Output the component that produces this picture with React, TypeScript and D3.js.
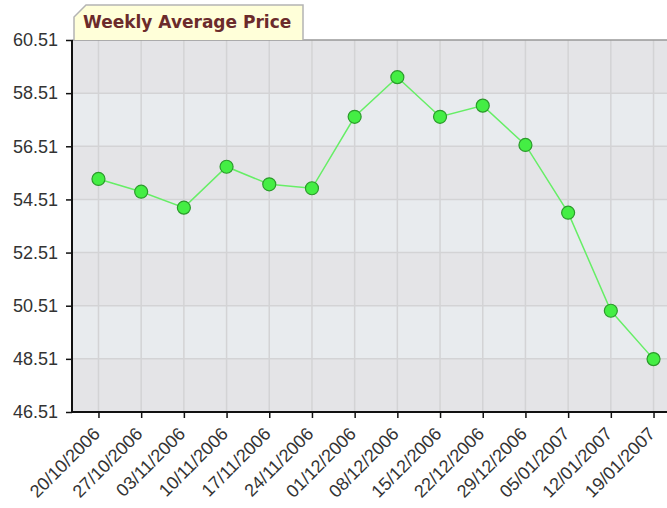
import React, { useRef, useEffect } from "react";
import * as d3 from "d3";

const weeks = [
  "20/10/2006",
  "27/10/2006",
  "03/11/2006",
  "10/11/2006",
  "17/11/2006",
  "24/11/2006",
  "01/12/2006",
  "08/12/2006",
  "15/12/2006",
  "22/12/2006",
  "29/12/2006",
  "05/01/2007",
  "12/01/2007",
  "19/01/2007",
];

const prices = [
  55.28, 54.8, 54.2, 55.74, 55.08, 54.93, 57.62, 59.11, 57.62, 58.04, 56.56,
  54.01, 50.32, 48.5,
];

const yTicks = [46.51, 48.51, 50.51, 52.51, 54.51, 56.51, 58.51, 60.51];

const title = "Weekly Average Price";

const W = 667;
const H = 508;

const App: React.FC = () => {
  const ref = useRef<SVGSVGElement>(null);

  useEffect(() => {
    document.body.style.margin = "0";
    if (!ref.current) return;
    const svg = d3.select(ref.current);
    svg.selectAll("*").remove();

    const left = 72;
    const top = 40;
    const bottom = 412;
    const right = 680;

    const x = d3.scalePoint<string>().domain(weeks).range([left, right]).padding(0.62);
    const y = d3.scaleLinear().domain([46.51, 60.51]).range([bottom, top]);

    // alternating bands
    const bands = d3.pairs(yTicks);
    svg
      .append("g")
      .selectAll("rect")
      .data(bands)
      .enter()
      .append("rect")
      .attr("x", left)
      .attr("width", right - left)
      .attr("y", (d) => y(d[1]))
      .attr("height", (d) => y(d[0]) - y(d[1]))
      .attr("fill", (d, i) => (i % 2 === 0 ? "#e4e4e7" : "#e8ebee"));

    // grid
    const grid = svg.append("g").attr("stroke", "#d3d3d5").attr("stroke-width", 1.5);
    grid
      .selectAll("line.v")
      .data(weeks)
      .enter()
      .append("line")
      .attr("x1", (d) => x(d)!)
      .attr("x2", (d) => x(d)!)
      .attr("y1", top)
      .attr("y2", bottom);
    grid
      .selectAll("line.h")
      .data(yTicks.slice(1, -1))
      .enter()
      .append("line")
      .attr("x1", left)
      .attr("x2", right)
      .attr("y1", (d) => y(d))
      .attr("y2", (d) => y(d));

    // top border
    svg
      .append("line")
      .attr("x1", left)
      .attr("x2", right)
      .attr("y1", top)
      .attr("y2", top)
      .attr("stroke", "#999")
      .attr("stroke-width", 1.5);

    // title tab
    const tabL = 74;
    const tabR = 303;
    const tabT = 5;
    svg
      .append("path")
      .attr(
        "d",
        `M${tabL},${top} L${tabL},${tabT + 12} L${tabL + 12},${tabT} L${tabR},${tabT} L${tabR},${top}`
      )
      .attr("fill", "#ffffd9")
      .attr("stroke", "#b4b4b4")
      .attr("stroke-width", 1.5);
    svg
      .append("text")
      .attr("x", 83)
      .attr("y", 28)
      .attr("font-family", "'DejaVu Sans', Verdana, sans-serif")
      .attr("font-weight", "bold")
      .attr("font-size", 17)
      .attr("fill", "#6b2b2b")
      .text(title);

    // y axis
    const yAxis = svg
      .append("g")
      .attr("transform", `translate(${left},0)`)
      .call(
        d3
          .axisLeft(y)
          .tickValues(yTicks)
          .tickSize(6)
          .tickPadding(8)
          .tickFormat((d) => (d as number).toFixed(2))
      );
    yAxis.select(".domain").attr("stroke", "#111").attr("stroke-width", 2).attr("d", `M0,${top}V${bottom + 1}`);
    yAxis.selectAll(".tick line").attr("stroke", "#111").attr("stroke-width", 1.5);
    yAxis
      .selectAll(".tick text")
      .attr("fill", "#333")
      .attr("font-family", "'Liberation Sans', Arial, sans-serif")
      .attr("font-size", 18);

    // x axis
    const xAxis = svg
      .append("g")
      .attr("transform", `translate(0,${bottom})`)
      .call(d3.axisBottom(x).tickSize(6).tickPadding(4));
    xAxis.select(".domain").attr("stroke", "#111").attr("stroke-width", 2).attr("d", `M${left},0H${right}`);
    xAxis.selectAll(".tick line").attr("stroke", "#111").attr("stroke-width", 1.5);
    xAxis
      .selectAll(".tick text")
      .attr("fill", "#333")
      .attr("font-family", "'Liberation Sans', Arial, sans-serif")
      .attr("font-size", 18)
      .attr("text-anchor", "end")
      .attr("dy", "0.35em")
      .attr("transform", "translate(-9.5,11.5) rotate(-45)");

    // line
    const data = weeks.map((w, i) => ({ w, v: prices[i] }));
    svg
      .append("path")
      .datum(data)
      .attr("fill", "none")
      .attr("stroke", "#66ee66")
      .attr("stroke-width", 1.5)
      .attr(
        "d",
        d3
          .line<{ w: string; v: number }>()
          .x((d) => x(d.w)!)
          .y((d) => y(d.v))
      );

    svg
      .append("g")
      .selectAll("circle")
      .data(data)
      .enter()
      .append("circle")
      .attr("cx", (d) => x(d.w)!)
      .attr("cy", (d) => y(d.v))
      .attr("r", 6.5)
      .attr("fill", "#44ee44")
      .attr("stroke", "#2b9a2b")
      .attr("stroke-width", 1.2);
  }, []);

  return (
    <svg
      ref={ref}
      width={W}
      height={H}
      style={{ display: "block", background: "#fff" }}
    />
  );
};

export default App;
